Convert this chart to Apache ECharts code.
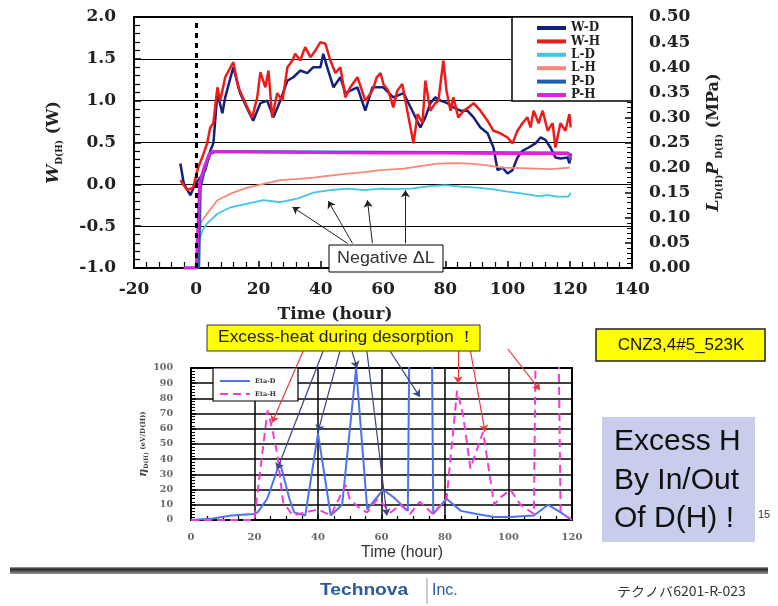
<!DOCTYPE html>
<html><head><meta charset="utf-8">
<script src="https://cdn.jsdelivr.net/npm/echarts@6/dist/echarts.min.js"></script>
<style>html,body{margin:0;padding:0;background:#fff}#c{width:778px;height:606px}</style>
</head><body><div id="c"></div>
<script>
// ---------- data (top chart: time in hours, W in W, L/P in MPa) ----------
const topLegend = ['W-D','W-H','L-D','L-H','P-D','P-H'];
const wD = [[-5.1,0.25],[-4,0.01],[-1.9,-0.13],[-0.3,0.01],[1.3,0.08],[2.9,0.17],[4.5,0.4],[5.5,0.49],[6.8,1.09],[8.4,0.85],[9.3,1.04],[11.9,1.4],[14.1,1.09],[16.7,0.88],[18.3,0.76],[20.6,0.97],[22.8,1.0],[24.8,0.8],[27,1.0],[29.3,1.24],[31.2,1.28],[33.4,1.36],[35.7,1.33],[37.6,1.4],[39.9,1.4],[40.8,1.56],[42.4,1.36],[44.1,1.16],[46.3,1.28],[47.9,1.09],[49.5,1.12],[51.8,1.16],[54.3,0.88],[56.6,1.16],[59.2,1.16],[60.1,1.16],[63.3,1.04],[66.6,1.09],[69.8,0.85],[72,0.68],[73.6,0.8],[75.2,0.97],[76.8,1.04],[78.5,1.0],[80.7,0.97],[82.6,0.92],[84.9,0.88],[87.1,0.88],[89.1,0.8],[91.3,0.68],[93.6,0.61],[95.5,0.44],[96.8,0.17],[98.4,0.2],[100,0.13],[101.6,0.17],[103.2,0.32],[104.8,0.4],[106.8,0.44],[109,0.49],[110.6,0.56],[112.2,0.53],[113.8,0.44],[115.4,0.32],[117,0.31],[119.3,0.32],[119.9,0.25],[120.3,0.37]];
const wH = [[-5.1,0.05],[-2.9,-0.07],[-1,-0.04],[0.6,0.2],[1.9,0.32],[3.5,0.49],[4.5,0.68],[5.5,0.73],[6.8,1.16],[7.7,1.0],[9.3,1.28],[11.9,1.46],[13.5,1.16],[16.4,0.92],[18,0.8],[19.6,1.04],[20.6,1.34],[22.2,1.16],[23.2,1.36],[24.4,0.8],[26,1.09],[27.7,1.0],[29.3,1.4],[30.9,1.48],[31.8,1.56],[33.4,1.48],[35,1.64],[36.7,1.52],[38.3,1.6],[39.9,1.7],[41.5,1.68],[43.1,1.48],[44.7,1.33],[46.3,1.4],[47.9,1.04],[49.5,1.16],[51.8,1.28],[54.3,1.0],[56.6,1.12],[58,1.28],[59.2,1.33],[60.1,1.2],[61.7,1.12],[63.3,0.92],[64.6,1.12],[66.2,1.2],[67.8,0.88],[69.8,0.49],[71.1,0.84],[72.7,0.73],[73.6,1.24],[75.2,0.88],[76.8,0.97],[77.8,1.0],[79.4,1.48],[80.4,1.12],[81.7,0.88],[82.6,1.04],[84.2,0.8],[85.9,0.88],[87.5,0.92],[89.1,0.97],[91.3,0.88],[93.6,0.76],[95.5,0.64],[97.7,0.61],[100,0.56],[101.6,0.49],[103.2,0.64],[104.8,0.73],[106.4,0.8],[107.4,0.68],[108.4,0.88],[110,0.73],[111.3,0.88],[112.9,0.64],[114.5,0.73],[115.4,0.44],[117,0.73],[118.6,0.64],[119.9,0.84],[120.3,0.68]];
const lD = [[1,0.055],[2,0.075],[3.5,0.089],[6.8,0.108],[11,0.121],[16.4,0.128],[21.6,0.135],[27,0.131],[32.4,0.138],[37.6,0.15],[43,0.155],[48.6,0.158],[54,0.155],[59.2,0.158],[64,0.157],[69,0.158],[75,0.163],[80,0.165],[85,0.162],[90,0.16],[95,0.157],[100,0.152],[105,0.148],[110,0.143],[113,0.145],[116,0.142],[119.5,0.142],[120.3,0.15]];
const lH = [[1,0.08],[1.9,0.095],[3.5,0.108],[6.8,0.135],[11,0.148],[16.4,0.16],[22,0.168],[27,0.175],[32,0.177],[37.6,0.18],[43,0.184],[48.6,0.188],[54,0.191],[59.2,0.195],[66.6,0.198],[72,0.203],[77.5,0.208],[83,0.209],[88,0.208],[93,0.205],[98.4,0.2],[104,0.199],[109,0.198],[114,0.197],[118,0.199],[120,0.2]];
const pD = [[-4,0],[0,0],[0.8,0.002],[1.3,0.16],[2.8,0.2],[4.5,0.228],[6,0.232],[40,0.231],[80,0.23],[119.5,0.229],[120.3,0.215]];
const pH = [[-4,0],[0,0],[0.6,0.002],[1.1,0.17],[2.5,0.2],[4,0.225],[5,0.232],[20,0.231],[40,0.23],[60,0.229],[80,0.229],[100,0.228],[119.5,0.228],[120.3,0.22]];
// annotation arrows (data coordinates: [from],[to])
const negArrows = [[[48.6,-0.705],[30.9,-0.27]],[[50.2,-0.705],[42.4,-0.2]],[[56.6,-0.705],[55,-0.19]],[[67.2,-0.705],[67.2,-0.07]]];

// ---------- data (bottom chart: time in hours, eta in eV/D(H)) ----------
const botLegend = ['Eta-D','Eta-H'];
const etaD = [[0,0],[7,1],[12.6,3],[19.8,4],[21,5],[24,14],[28,38],[31,14],[32.5,5],[36,3],[40,57],[44,3],[47.6,10],[52,100],[55.5,7],[60.5,20],[63.8,15],[68.3,6],[72.5,1000],[76.3,4],[80.5,14],[85,6],[90,4],[95.5,2],[100.5,2],[108,3],[112.5,10],[116.4,5],[120,0]];
const etaH = [[0,0],[20,0],[20.5,10],[24.1,72],[25.6,60],[27.2,43],[29,12],[32,3],[36,5],[40,7],[44,3],[48.7,23],[50,14],[53.5,7],[55.5,5],[58.8,14],[62.9,5],[66,10],[69,4],[72,12],[76.2,4],[80.5,14],[83.8,85],[85.7,69],[88,34],[92,58],[95.5,10],[97,14],[100.6,20],[103.8,10],[108,4],[112,800],[116.4,5],[120,0]];
const redArrows = [[[35.3,111],[25.5,64]],[[84.1,112.5],[84.1,90]],[[87.9,112.5],[92.6,58]],[[99.8,112.5],[109.9,85.5]]];
const darkArrows = [[[41.6,111],[27.1,33]],[[46.9,111],[40,58]],[[50.7,111],[52.3,100]],[[55.4,111],[61.7,3]],[[62.7,111],[72.1,81]]];

const SERIF = '"DejaVu Serif","Liberation Serif",serif';
const SANS = '"Liberation Sans",Arial,sans-serif';

const chart = echarts.init(document.getElementById('c'));

function lineS(name, data, color, width, yIdx, z, extra) {
  return Object.assign({
    name, type:'line', data, xAxisIndex:0, yAxisIndex:yIdx, showSymbol:false, symbol:'none',
    lineStyle:{color, width}, itemStyle:{color}, z, silent:true, animation:false
  }, extra || {});
}

const option = {
  animation:false,
  backgroundColor:'#fff',
  grid:[
    {left:134, top:17, width:498, height:251, show:true, borderColor:'#000', borderWidth:2, backgroundColor:'transparent'},
    {left:191, top:368, width:381, height:152, show:true, borderColor:'#000', borderWidth:2, backgroundColor:'transparent'}
  ],
  xAxis:[
    {type:'value', gridIndex:0, min:-20, max:140, interval:20,
     axisLine:{show:true, onZero:false, lineStyle:{color:'#000', width:2}},
     axisTick:{show:true, inside:true, length:7, lineStyle:{color:'#000', width:1.5}},
     minorTick:{show:true, splitNumber:5, length:6, lineStyle:{color:'#000', width:1.2}},
     splitLine:{show:false},
     axisLabel:{margin:13, fontFamily:SERIF, fontWeight:'bold', fontSize:17, color:'#222'},
     name:'Time (hour)', nameLocation:'middle', nameGap:38,
     nameTextStyle:{fontFamily:SERIF, fontWeight:'bold', fontSize:17, color:'#222', padding:[0,96,0,0]}},
    {type:'value', gridIndex:1, min:0, max:120, interval:20,
     axisLine:{show:true, onZero:false, lineStyle:{color:'#000', width:2}},
     axisTick:{show:true, inside:true, length:5, lineStyle:{color:'#000', width:1.5}},
     minorTick:{show:true, splitNumber:4, length:4, lineStyle:{color:'#000', width:1.2}},
     splitLine:{show:true, lineStyle:{color:'#000', width:1.5}},
     axisLabel:{margin:12, fontFamily:SERIF, fontWeight:'bold', fontSize:10, color:'#666'}}
  ],
  yAxis:[
    {type:'value', gridIndex:0, min:-1, max:2, interval:0.5,
     axisLine:{show:true, onZero:false, lineStyle:{color:'#000', width:2}},
     axisTick:{show:true, inside:true, length:7, lineStyle:{color:'#000', width:1.5}},
     minorTick:{show:true, splitNumber:5, length:6, lineStyle:{color:'#000', width:1.2}},
     splitLine:{show:true, lineStyle:{color:'#000', width:1}},
     axisLabel:{margin:18, fontFamily:SERIF, fontWeight:'bold', fontSize:17, color:'#222', formatter:v=>v.toFixed(1)},
     name:'{w|W}{s|D(H)}{n| (W)}', nameLocation:'middle', nameGap:70, nameRotate:90,
     nameTextStyle:{rich:{
       w:{fontFamily:SERIF, fontWeight:'bold', fontStyle:'italic', fontSize:17, color:'#222', lineHeight:20},
       s:{fontFamily:SERIF, fontWeight:'bold', fontSize:9, color:'#222', verticalAlign:'bottom', lineHeight:14},
       n:{fontFamily:SERIF, fontWeight:'bold', fontSize:16, color:'#222', lineHeight:20}}}},
    {type:'value', gridIndex:0, position:'right', min:0, max:0.5, interval:0.05,
     axisLine:{show:true, onZero:false, lineStyle:{color:'#000', width:2}},
     axisTick:{show:true, inside:true, length:7, lineStyle:{color:'#000', width:1.5}},
     minorTick:{show:true, splitNumber:5, length:5, lineStyle:{color:'#000', width:1}},
     splitLine:{show:false},
     axisLabel:{margin:17, fontFamily:SERIF, fontWeight:'bold', fontSize:17, color:'#222', formatter:v=>v.toFixed(2)},
     name:'{w|L}{s|D(H)}{w|P}{s| D(H)}{n| (MPa)}', nameLocation:'middle', nameGap:72, nameRotate:90,
     nameTextStyle:{rich:{
       w:{fontFamily:SERIF, fontWeight:'bold', fontStyle:'italic', fontSize:17, color:'#222', lineHeight:20},
       s:{fontFamily:SERIF, fontWeight:'bold', fontSize:9, color:'#222', verticalAlign:'bottom', lineHeight:14},
       n:{fontFamily:SERIF, fontWeight:'bold', fontSize:16, color:'#222', lineHeight:20}}}},
    {type:'value', gridIndex:1, min:0, max:100, interval:10,
     axisLine:{show:true, onZero:false, lineStyle:{color:'#000', width:2}},
     axisTick:{show:true, inside:true, length:5, lineStyle:{color:'#000', width:1.5}},
     minorTick:{show:true, splitNumber:5, length:4, lineStyle:{color:'#000', width:1}},
     splitLine:{show:true, lineStyle:{color:'#000', width:1.5}},
     axisLabel:{margin:18, fontFamily:SERIF, fontWeight:'bold', fontSize:9.5, color:'#666'},
     name:'{e|η}{s|D(H)}{n| (eV/D(H))}', nameLocation:'middle', nameGap:30, nameRotate:90,
     nameTextStyle:{rich:{
       e:{fontFamily:SERIF, fontWeight:'bold', fontStyle:'italic', fontSize:11, color:'#444', lineHeight:13},
       s:{fontFamily:SERIF, fontWeight:'bold', fontSize:6, color:'#444', verticalAlign:'bottom', lineHeight:9},
       n:{fontFamily:SERIF, fontWeight:'bold', fontSize:7, color:'#444', lineHeight:13}}}}
  ],
  legend:[
    {data:topLegend, orient:'vertical', left:532, top:17, itemWidth:29, itemHeight:4, icon:'rect', itemGap:1.4,
     z:6, textStyle:{fontFamily:SERIF, fontWeight:'bold', fontSize:12, lineHeight:12, color:'#222'}},
    {data:botLegend, orient:'vertical', left:214, top:371, itemWidth:30, itemHeight:6, itemGap:3,
     itemStyle:{opacity:0}, lineStyle:{width:2},
     z:6, textStyle:{fontFamily:SERIF, fontWeight:'bold', fontSize:6.5, lineHeight:10, color:'#333'}}
  ],
  series:[
    lineS('W-D', wD, '#14207a', 2.5, 0, 3, {markLine:{symbol:'none', silent:true, label:{show:false},
      lineStyle:{color:'#000', width:3, type:[5,5]}, data:[{xAxis:0}]}}),
    lineS('W-H', wH, '#ee1b1b', 2.5, 0, 3),
    lineS('L-D', lD, '#3fc6e4', 1.8, 1, 3),
    lineS('L-H', lH, '#f2877a', 1.8, 1, 3),
    lineS('P-D', pD, '#1f5fb0', 3, 1, 3),
    lineS('P-H', pH, '#e020e0', 3, 1, 3),
    {type:'lines', coordinateSystem:'cartesian2d', xAxisIndex:0, yAxisIndex:0, clip:false, silent:true,
     symbol:['none','arrow'], symbolSize:7, lineStyle:{color:'#222', width:1, opacity:1}, z:5,
     data:negArrows.map(a=>({coords:a}))},
    {name:'Eta-D', type:'line', data:etaD, xAxisIndex:1, yAxisIndex:2, showSymbol:false, symbol:'none', clip:true,
     lineStyle:{color:'#4f73ea', width:2}, itemStyle:{color:'#4f73ea'}, z:3},
    {name:'Eta-H', type:'line', data:etaH, xAxisIndex:1, yAxisIndex:2, showSymbol:false, symbol:'none', clip:true,
     lineStyle:{color:'#f03cd8', width:2, type:[8,5]}, itemStyle:{color:'#f03cd8'}, z:3},
    {type:'lines', coordinateSystem:'cartesian2d', xAxisIndex:1, yAxisIndex:2, clip:false, silent:true,
     symbol:['none','arrow'], symbolSize:7, lineStyle:{color:'#e83a3a', width:1.2, opacity:1}, z:5,
     data:redArrows.map(a=>({coords:a}))},
    {type:'lines', coordinateSystem:'cartesian2d', xAxisIndex:1, yAxisIndex:2, clip:false, silent:true,
     symbol:['none','arrow'], symbolSize:7, lineStyle:{color:'#3a4488', width:1.2, opacity:1}, z:5,
     data:darkArrows.map(a=>({coords:a}))}
  ],
  graphic:[
    // top legend frame
    {type:'rect', z:1, shape:{x:512, y:17, width:120, height:84}, style:{fill:'#fff', stroke:'#000', lineWidth:1.5}},
    // bottom legend frame
    {type:'rect', z:1, shape:{x:213, y:368, width:85, height:33}, style:{fill:'#fff', stroke:'#000', lineWidth:1.2}},
    // Negative ΔL box
    {type:'rect', z:7, shape:{x:329, y:245, width:114, height:27}, style:{fill:'#fff', stroke:'#000', lineWidth:1}},
    {type:'text', z:8, x:337, y:259, scaleX:1.12, style:{text:'Negative ΔL', font:'16px "Liberation Sans",Arial,sans-serif', fill:'#333', align:'left', verticalAlign:'middle'}},
    // Excess-heat box
    {type:'rect', z:7, shape:{x:207, y:325, width:273, height:26}, style:{fill:'#ffff00', stroke:'#333', lineWidth:1}},
    {type:'text', z:8, x:218, y:338, scaleX:1.09, style:{text:'Excess-heat during desorption ！', font:'16px "Liberation Sans",Arial,sans-serif', fill:'#222', align:'left', verticalAlign:'middle'}},
    // CNZ box
    {type:'rect', z:7, shape:{x:596, y:329, width:169, height:32}, style:{fill:'#ffff00', stroke:'#222', lineWidth:1.5}},
    {type:'text', z:8, x:681, y:345, style:{text:'CNZ3,4#5_523K', font:'17px "Liberation Sans",Arial,sans-serif', fill:'#111', align:'center', verticalAlign:'middle'}},
    // Excess H box
    {type:'rect', z:7, shape:{x:602, y:417, width:153, height:125}, style:{fill:'#c8cdeb'}},
    {type:'text', z:8, x:614, y:442, style:{text:'Excess H', font:'30px "Liberation Sans",Arial,sans-serif', fill:'#111', align:'left', verticalAlign:'middle'}},
    {type:'text', z:8, x:614, y:481, style:{text:'By In/Out', font:'30px "Liberation Sans",Arial,sans-serif', fill:'#111', align:'left', verticalAlign:'middle'}},
    {type:'text', z:8, x:614, y:519, style:{text:'Of D(H) !', font:'30px "Liberation Sans",Arial,sans-serif', fill:'#111', align:'left', verticalAlign:'middle'}},
    {type:'text', z:8, x:758, y:515, style:{text:'15', font:'11px "Liberation Sans",Arial,sans-serif', fill:'#333', align:'left', verticalAlign:'middle'}},
    // footer
    {type:'rect', z:7, shape:{x:10, y:567, width:758, height:7}, style:{fill:new echarts.graphic.LinearGradient(0,0,0,1,[{offset:0,color:'#aaa'},{offset:0.3,color:'#222'},{offset:0.6,color:'#555'},{offset:1,color:'#999'}])}},
    {type:'text', z:8, x:320, y:591, scaleX:1.2, style:{text:'Technova', font:'bold 16px "Liberation Sans",Arial,sans-serif', fill:'#2b5a9c', align:'left', verticalAlign:'middle'}},
    {type:'line', z:8, shape:{x1:427, y1:578, x2:427, y2:604}, style:{stroke:'#999', lineWidth:1}},
    {type:'text', z:8, x:432, y:591, style:{text:'Inc.', font:'16px "Liberation Sans",Arial,sans-serif', fill:'#2b5a9c', align:'left', verticalAlign:'middle'}},
    {type:'text', z:8, x:617, y:591, scaleX:1.08, style:{text:'テクノバ6201-R-023', font:'13px "Noto Sans CJK JP","Liberation Sans",sans-serif', fill:'#333', align:'left', verticalAlign:'middle'}},
    // bottom time label
    {type:'text', z:8, x:402, y:553, style:{text:'Time (hour)', font:'16px "Liberation Sans",Arial,sans-serif', fill:'#333', align:'center', verticalAlign:'middle'}}
  ]
};
chart.setOption(option);
</script></body></html>
